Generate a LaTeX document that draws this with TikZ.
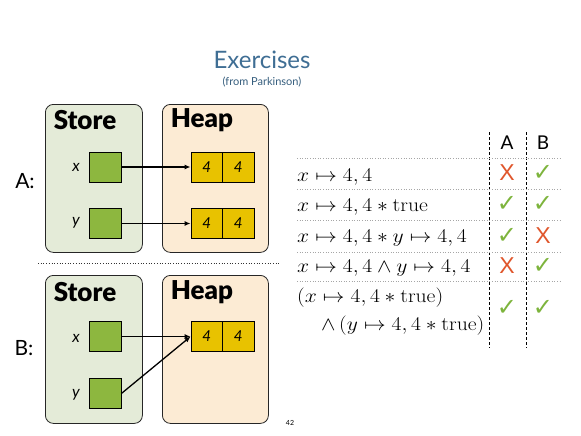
\documentclass[tikz,border=0pt]{standalone}
\usepackage{fix-cm}
\usepackage[no-math]{fontspec}
\setmainfont{Lato}
\newfontfamily\dejavu{DejaVu Sans}
\newfontfamily\latoblack{Lato Black}
\newfontfamily\libsans{Liberation Sans}
\usetikzlibrary{arrows.meta}
\definecolor{titleblue}{HTML}{3F6E94}
\definecolor{storefill}{HTML}{E4EBD8}
\definecolor{heapfill}{HTML}{FCEBD4}
\definecolor{ptrgreen}{HTML}{8DB73F}
\definecolor{cellgold}{HTML}{E8C200}
\definecolor{okgreen}{HTML}{7DB43C}
\definecolor{nored}{HTML}{E0562C}
\tikzset{
  panel/.style={draw=black!85, line width=0.8pt, rounded corners=8pt, anchor=north west, inner sep=0pt},
  storebox/.style={panel, fill=storefill, minimum width=97pt, minimum height=148pt},
  heapbox/.style={panel, fill=heapfill, minimum width=106pt, minimum height=148pt},
  paneltitle/.style={font=\latoblack\fontsize{26}{28}\selectfont},
  ptrbox/.style={draw=black, line width=0.8pt, fill=ptrgreen, minimum width=32pt, minimum height=30pt, inner sep=0pt},
  cell/.style={draw=black, line width=0.8pt, fill=cellgold, minimum width=31.5pt, minimum height=30pt, inner sep=0pt, font=\fontsize{15}{17}\selectfont\itshape},
  varlbl/.style={font=\fontsize{16}{18}\selectfont\itshape},
  ptr/.style={line width=1.3pt, -{Latex[length=6pt,width=5pt]}},
  sidelbl/.style={font=\fontsize{21}{24}\selectfont},
  formula/.style={anchor=base west, inner sep=0pt, font=\fontsize{19.5}{23}\selectfont},
  rowline/.style={gray!70, line width=0.6pt, dotted},
  colline/.style={black, line width=0.7pt, dash pattern=on 3pt off 2pt},
  okmark/.style={text=okgreen, font=\dejavu\fontsize{24}{26}\selectfont},
  nomark/.style={text=nored, font=\libsans\fontsize{23}{25}\selectfont},
  hdr/.style={font=\fontsize{19}{22}\selectfont}
}
\begin{document}
\begin{tikzpicture}[x=1pt,y=-1pt]
\useasboundingbox (0,0) rectangle (581,436);
\fill[white] (0,0) rectangle (581,436);
% title
\node[text=titleblue, font=\fontsize{24}{28}\selectfont] (title) at (262,60) {Exercises};
\node[text=titleblue!85!black, font=\fontsize{11}{13}\selectfont] (subtitle) at (262,82) {(from Parkinson)};

% ---------- A ----------
\node[storebox] (storeA) at (45,104) {};
\node[heapbox] (heapA) at (162,104) {};
\node[paneltitle] (storeAt) at (85,120) {Store};
\node[paneltitle] (heapAt) at (202,120) {Heap};
\node[sidelbl] (labA) at (25,181) {A:};
\node[ptrbox] (xa) at (105,167) {};
\node[ptrbox] (ya) at (105,223.5) {};
\node[varlbl] (xal) at (76,167) {x};
\node[varlbl] (yal) at (76,223) {y};
\node[cell] (hxa1) at (206.75,167) {4};
\node[cell] (hxa2) at (238.25,167) {4};
\node[cell] (hya1) at (206.75,223.5) {4};
\node[cell] (hya2) at (238.25,223.5) {4};
\draw[ptr] (xa.east) -- (hxa1.west);
\draw[ptr] (ya.east) -- (hya1.west);

\draw[black!80, line width=0.7pt, dotted] (38,263) -- (280,263);

% ---------- B ----------
\node[storebox] (storeB) at (45,275) {};
\node[heapbox] (heapB) at (162,275) {};
\node[paneltitle] (storeBt) at (85,292) {Store};
\node[paneltitle] (heapBt) at (202,292) {Heap};
\node[sidelbl] (labB) at (24,348) {B:};
\node[ptrbox] (xb) at (105,336.5) {};
\node[ptrbox] (yb) at (105,393.5) {};
\node[varlbl] (xbl) at (76,338) {x};
\node[varlbl] (ybl) at (76,395) {y};
\node[cell] (hb1) at (206.75,336.5) {4};
\node[cell] (hb2) at (238.25,336.5) {4};
\draw[ptr] (xb.east) -- (hb1.west);
\draw[ptr] (yb.east) -- (hb1.west);

% ---------- table ----------
\node[hdr] (hA) at (507,143) {A};
\node[hdr] (hB) at (543,143) {B};
\draw[colline] (489,132) -- (489,348);
\draw[colline] (526,132) -- (526,348);
\foreach \yy in {158,189,220,252,281} \draw[rowline] (297,\yy) -- (562,\yy);

\node[formula] (f1) at (297,181) {\scalebox{1.11}[1]{$x\mapsto 4,4$}};
\node[formula] (f2) at (297,211.5) {\scalebox{1.11}[1]{$x\mapsto 4,4*\mathrm{true}$}};
\node[formula] (f3) at (297,242) {\scalebox{1.11}[1]{$x\mapsto 4,4*y\mapsto 4,4$}};
\node[formula] (f4) at (297,272) {\scalebox{1.11}[1]{$x\mapsto 4,4\wedge y\mapsto 4,4$}};
\node[formula] (f5a) at (297,302) {\scalebox{1.11}[1]{$(x\mapsto 4,4*\mathrm{true})$}};
\node[formula] (f5b) at (321,330) {\scalebox{1.11}[1]{$\wedge\,(y\mapsto 4,4*\mathrm{true})$}};

\node[nomark] (m1a) at (507,173) {X};
\node[okmark] (m1b) at (543,173) {✓};
\node[okmark] (m2a) at (507,204) {✓};
\node[okmark] (m2b) at (543,204) {✓};
\node[okmark] (m3a) at (507,236) {✓};
\node[nomark] (m3b) at (543,236) {X};
\node[nomark] (m4a) at (507,266) {X};
\node[okmark] (m4b) at (543,266) {✓};
\node[okmark] (m5a) at (507,308) {✓};
\node[okmark] (m5b) at (543,308) {✓};

\node[font=\fontsize{7}{8}\selectfont] (pg) at (290,423) {42};
\end{tikzpicture}
\end{document}
